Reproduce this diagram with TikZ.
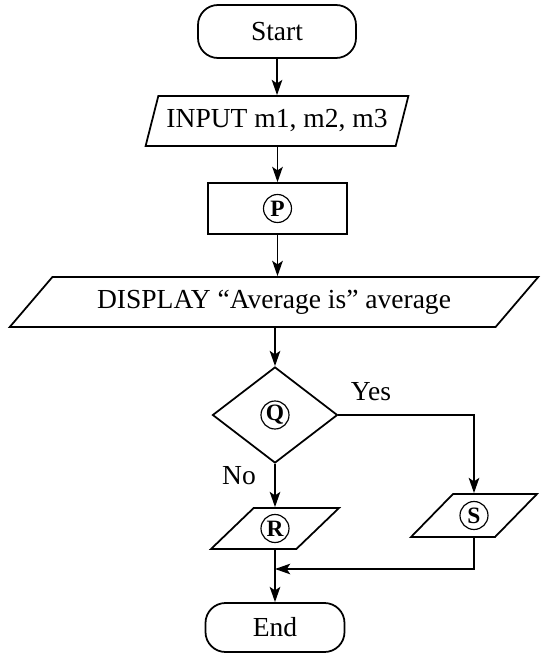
\documentclass[tikz,border=0pt]{standalone}
\usepackage{fontspec}
\setmainfont{Liberation Serif}
\usepackage{tikz}
\usetikzlibrary{arrows.meta,shapes.geometric,positioning}

\begin{document}
\begin{tikzpicture}[x=0.03cm,y=-0.03cm,
  every node/.style={font=\fontsize{23.5}{27}\selectfont},
  box/.style={draw,line width=1.5pt,inner sep=2pt},
  terminal/.style={box,rectangle,rounded corners=0.6cm},
  io/.style={box,trapezium,trapezium stretches=true},
  letter/.style={circle,draw,line width=1pt,minimum size=0.84cm,inner sep=0pt,
    font=\fontsize{20}{22}\selectfont\bfseries},
  line/.style={line width=1.5pt,-{Stealth[length=13pt,width=9pt,inset=3pt]}}]

\useasboundingbox (0,0) rectangle (542,654);

\node[terminal,minimum width=4.74cm,minimum height=1.59cm] (start) at (277,31.5) {Start};
\node[io,trapezium left angle=66,trapezium right angle=114,
  minimum width=7.89cm,minimum height=1.5cm] (input) at (277,121) {INPUT m1, m2, m3};
\node[box,minimum width=4.17cm,minimum height=1.53cm] (proc) at (277.5,208.5) {};
\node[letter] (p) at (proc) {P};
\node[io,trapezium left angle=40,trapezium right angle=140,
  minimum width=15.9cm,minimum height=1.5cm] (display) at (274,302) {DISPLAY “Average is” average};
\node[box,diamond,minimum width=3.75cm,minimum height=2.88cm] (decide) at (275,415) {};
\node[letter] (q) at (decide) {Q};
\node[io,trapezium left angle=45,trapezium right angle=135,
  minimum width=3.84cm,minimum height=1.23cm] (rout) at (275,528.5) {};
\node[letter] (r) at (rout) {R};
\node[io,trapezium left angle=45,trapezium right angle=135,
  minimum width=3.78cm,minimum height=1.29cm] (sout) at (474,515.5) {};
\node[letter] (s) at (sout) {S};
\node[terminal,minimum width=4.17cm,minimum height=1.47cm] (end) at (275,627.5) {End};

\node (yes) at (371,392) {Yes};
\node (no) at (239,476) {No};

%main line
\draw[line] (start) -- (input);
\draw[line] (input.south -| proc.north) -- (proc.north);
\draw[line] (proc.south) -- (proc.south |- display.north);
\draw[line] (decide.north |- display.south) -- (decide.north);
\draw[line] (decide.east) -| (sout.north);
\draw[line] (decide.south) -- (rout.north);
\draw[line] (rout.south) -- (end.north);
\coordinate (join) at (rout.south |- 0,569);
\draw[line] (sout.south) |- (join);
\end{tikzpicture}
\end{document}
